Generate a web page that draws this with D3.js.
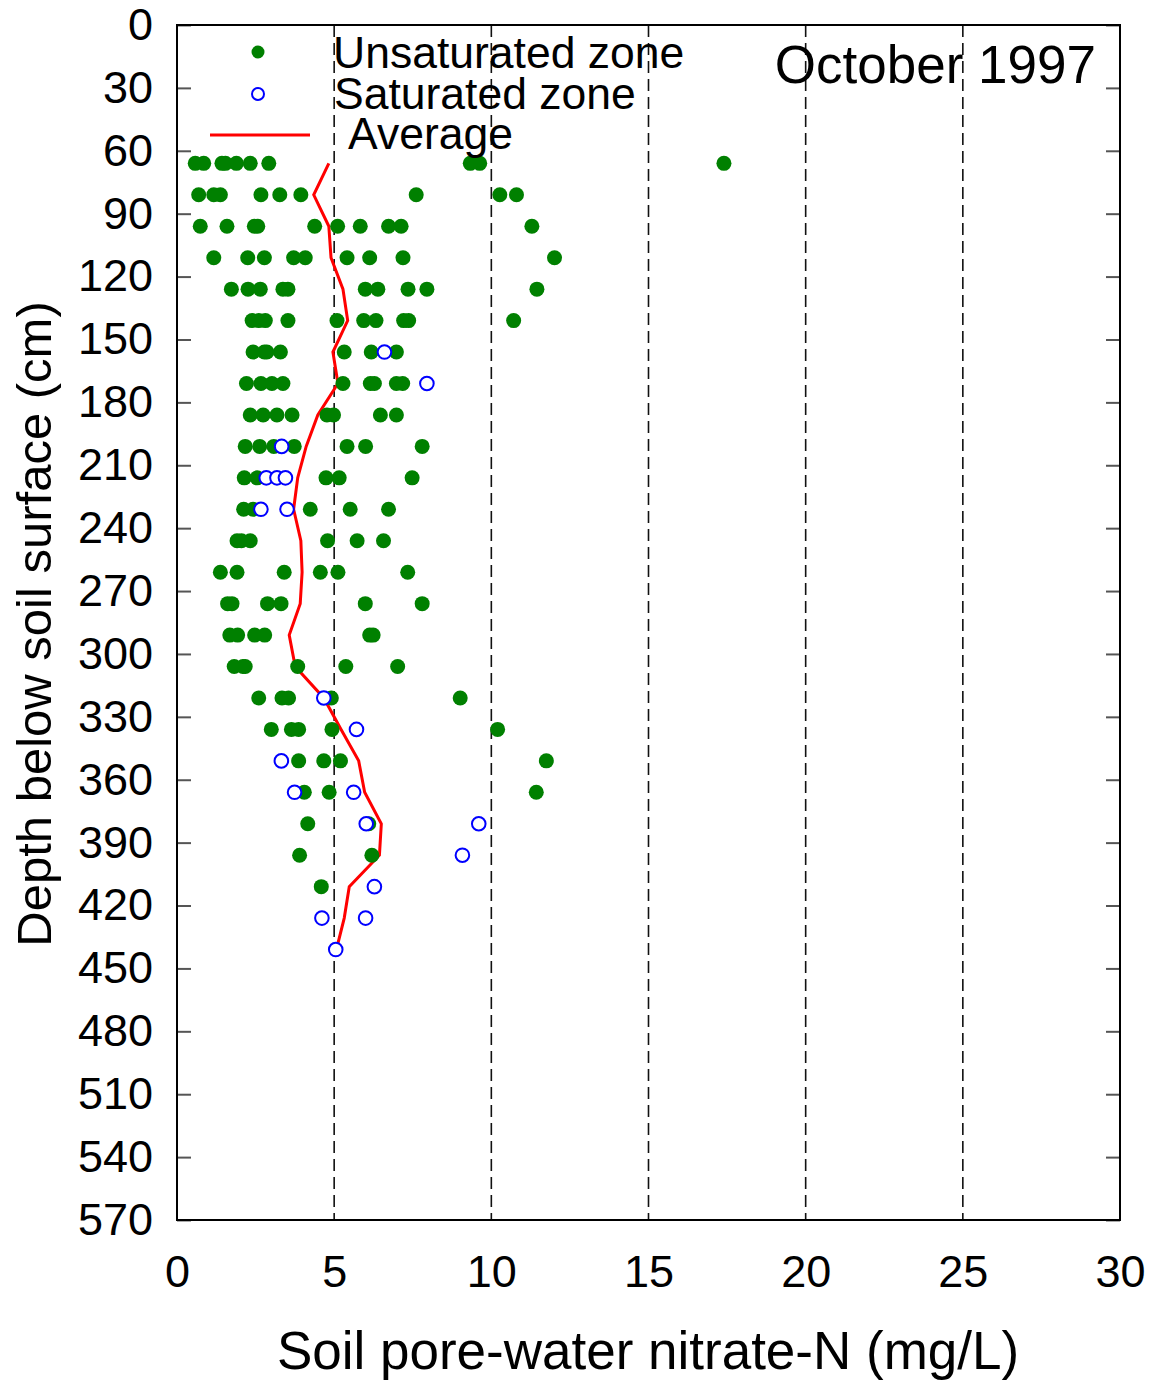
<!DOCTYPE html>
<html>
<head>
<meta charset="utf-8">
<script src="https://cdn.jsdelivr.net/npm/d3@7"></script>
<style>
  body { margin: 0; background: #fff; }
  svg { display: block; font-family: 'Liberation Sans', Arial, sans-serif; }
</style>
</head>
<body>
<div id="chart"></div>
<script>
// Constants
const WIDTH_PX = 1153;
const HEIGHT_PX = 1382;
const PLOT = {left: 177, right: 1120, top: 25, bottom: 1220};

const TITLE = 'October 1997';
const X_LABEL = 'Soil pore-water nitrate-N (mg/L)';
const Y_LABEL = 'Depth below soil surface (cm)';

const X_TICKS = [0, 5, 10, 15, 20, 25, 30];
const X_GRID = [5, 10, 15, 20, 25];
const Y_TICKS = [0, 30, 60, 90, 120, 150, 180, 210, 240, 270, 300, 330, 360,
  390, 420, 450, 480, 510, 540, 570];

// Sampling depths (cm), one row of points each.
const DEPTHS = [66, 81, 96, 111, 126, 141, 156, 171, 186, 201, 216, 231, 246,
  261, 276, 291, 306, 321, 336, 351, 366, 381, 396, 411, 426, 441];

// Nitrate-N values per depth, in the same order as DEPTHS.
const UNSATURATED = [
  [0.58, 0.85, 1.43, 1.54, 1.89, 2.33, 2.92, 9.33, 9.63, 17.4],
  [0.69, 1.17, 1.38, 2.67, 3.27, 3.94, 7.61, 10.27, 10.80],
  [0.74, 1.59, 2.46, 2.57, 4.38, 5.11, 5.83, 6.73, 7.13, 11.29],
  [1.17, 2.25, 2.78, 3.71, 4.08, 5.41, 6.13, 7.19, 12.01],
  [1.73, 2.26, 2.65, 3.37, 3.53, 5.99, 6.39, 7.35, 7.95, 11.45],
  [2.39, 2.60, 2.81, 3.53, 5.09, 5.94, 6.33, 7.21, 7.37, 10.71],
  [2.42, 2.78, 2.86, 3.29, 5.32, 6.18, 6.98],
  [2.21, 2.67, 3.02, 3.37, 5.28, 6.15, 6.28, 6.98, 7.18],
  [2.33, 2.74, 3.18, 3.66, 4.77, 4.98, 6.47, 6.98],
  [2.17, 2.63, 3.08, 3.73, 5.41, 6.00, 7.80],
  [2.14, 2.55, 4.74, 5.16, 7.48],
  [2.12, 2.42, 4.24, 5.51, 6.73],
  [1.91, 2.05, 2.33, 4.79, 5.73, 6.57],
  [1.38, 1.91, 3.41, 4.56, 5.12, 7.34],
  [1.61, 1.75, 2.88, 3.31, 5.99, 7.80],
  [1.68, 1.93, 2.47, 2.79, 6.13, 6.24],
  [1.82, 2.10, 2.17, 3.84, 5.37, 7.02],
  [2.60, 3.34, 3.55, 4.91, 9.01],
  [3.00, 3.64, 3.87, 4.93, 10.20],
  [3.87, 4.67, 5.20, 11.75],
  [4.05, 4.84, 11.43],
  [4.16, 6.10],
  [3.90, 6.20],
  [4.59],
  [],
  [],
];

const SATURATED = [
  [], [], [], [], [], [],
  [6.60],
  [7.95],
  [],
  [3.33],
  [2.84, 3.18, 3.45],
  [2.67, 3.50],
  [], [], [], [], [],
  [4.67],
  [5.71],
  [3.32],
  [3.74, 5.62],
  [6.02, 9.60],
  [9.08],
  [6.28],
  [4.61, 6.00],
  [5.05],
];

const AVERAGE = [4.83, 4.35, 4.83, 4.90, 5.28, 5.43, 4.96, 5.12, 4.48, 4.11,
  3.84, 3.71, 3.94, 3.98, 3.92, 3.57, 3.76, 4.67, 5.22, 5.78, 5.97, 6.50,
  6.44, 5.48, 5.32, 5.07];

const GREEN = '#008000';
const BLUE = '#0000ff';
const RED = '#ff0000';

/** Flattens per-depth lists into {depth, value} points. */
function toPoints(rows) {
  let points = [];
  for (let i = 0; i < DEPTHS.length; i++) {
    for (let j = 0; j < rows[i].length; j++) {
      points.push({'depth': DEPTHS[i], 'value': rows[i][j]});
    }
  }
  return points;
}

function drawChart() {
  let svg = d3.select('#chart').append('svg')
      .attr('width', WIDTH_PX)
      .attr('height', HEIGHT_PX);

  let x = d3.scaleLinear().domain([0, 30]).range([PLOT.left, PLOT.right]);
  let y = d3.scaleLinear().domain([0, 570]).range([PLOT.top, PLOT.bottom]);

  // Dashed vertical reference lines.
  svg.append('g').selectAll('line')
      .data(X_GRID)
      .join('line')
      .attr('x1', function(d) { return x(d); })
      .attr('x2', function(d) { return x(d); })
      .attr('y1', PLOT.top)
      .attr('y2', PLOT.bottom)
      .attr('stroke', '#111')
      .attr('stroke-width', 1.6)
      .attr('stroke-dasharray', '12,6');

  // Left axis, ticks pointing inwards.
  let left = svg.append('g')
      .attr('transform', 'translate(' + PLOT.left + ',0)')
      .call(d3.axisLeft(y).tickValues(Y_TICKS).tickSizeInner(-14)
          .tickSizeOuter(0).tickPadding(24));
  left.select('.domain').remove();
  left.selectAll('line').attr('stroke', '#555').attr('stroke-width', 2);
  left.selectAll('text').attr('font-size', 45).attr('fill', '#000')
      .attr('font-family', null);

  // Right axis, ticks only.
  let right = svg.append('g')
      .attr('transform', 'translate(' + PLOT.right + ',0)')
      .call(d3.axisRight(y).tickValues(Y_TICKS).tickSizeInner(-14)
          .tickSizeOuter(0).tickFormat(''));
  right.select('.domain').remove();
  right.selectAll('line').attr('stroke', '#555').attr('stroke-width', 2);

  // Bottom axis labels.
  let bottom = svg.append('g')
      .attr('transform', 'translate(0,' + PLOT.bottom + ')')
      .call(d3.axisBottom(x).tickValues(X_TICKS).tickSize(0).tickPadding(35));
  bottom.select('.domain').remove();
  bottom.selectAll('text').attr('font-size', 45).attr('fill', '#000')
      .attr('font-family', null);

  // Frame.
  svg.append('rect')
      .attr('x', PLOT.left)
      .attr('y', PLOT.top)
      .attr('width', PLOT.right - PLOT.left)
      .attr('height', PLOT.bottom - PLOT.top)
      .attr('fill', 'none')
      .attr('stroke', '#000')
      .attr('stroke-width', 2);

  // Average profile.
  let avgLine = d3.line()
      .x(function(d, i) { return x(d); })
      .y(function(d, i) { return y(DEPTHS[i]); });
  svg.append('path')
      .attr('d', avgLine(AVERAGE))
      .attr('fill', 'none')
      .attr('stroke', RED)
      .attr('stroke-width', 3);

  svg.append('g').selectAll('circle')
      .data(toPoints(UNSATURATED))
      .join('circle')
      .attr('cx', function(d) { return x(d.value); })
      .attr('cy', function(d) { return y(d.depth); })
      .attr('r', 7.5)
      .attr('fill', GREEN);

  svg.append('g').selectAll('circle')
      .data(toPoints(SATURATED))
      .join('circle')
      .attr('cx', function(d) { return x(d.value); })
      .attr('cy', function(d) { return y(d.depth); })
      .attr('r', 6.8)
      .attr('fill', '#fff')
      .attr('stroke', BLUE)
      .attr('stroke-width', 2);

  // Legend.
  let legend = svg.append('g').attr('font-size', 44.5);
  legend.append('circle').attr('cx', 258).attr('cy', 52).attr('r', 6.5)
      .attr('fill', GREEN);
  legend.append('text').attr('x', 333).attr('y', 68).text('Unsaturated zone');
  legend.append('circle').attr('cx', 258).attr('cy', 94).attr('r', 6)
      .attr('fill', '#fff').attr('stroke', BLUE).attr('stroke-width', 2);
  legend.append('text').attr('x', 334).attr('y', 109).text('Saturated zone');
  legend.append('line').attr('x1', 210).attr('x2', 310)
      .attr('y1', 135).attr('y2', 135)
      .attr('stroke', RED).attr('stroke-width', 3);
  legend.append('text').attr('x', 348).attr('y', 149).text('Average');

  svg.append('text')
      .attr('x', 1096)
      .attr('y', 83)
      .attr('text-anchor', 'end')
      .attr('font-size', 53)
      .text(TITLE);

  // Axis titles.
  svg.append('text')
      .attr('x', 648)
      .attr('y', 1369)
      .attr('text-anchor', 'middle')
      .attr('font-size', 53)
      .text(X_LABEL);

  svg.append('text')
      .attr('transform', 'translate(51,624) rotate(-90)')
      .attr('text-anchor', 'middle')
      .attr('font-size', 49)
      .text(Y_LABEL);
}

drawChart();
</script>
</body>
</html>
